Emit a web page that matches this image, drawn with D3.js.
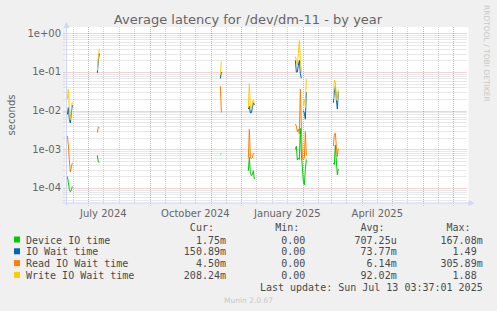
<!DOCTYPE html>
<html><head><meta charset="utf-8">
<script src="https://cdn.jsdelivr.net/npm/d3@7"></script>
<style>body{margin:0;background:#f0f0f0}svg{display:block}</style>
</head><body><svg id="c" width="497" height="311"></svg>
<script>
const title = "Average latency for /dev/dm-11 - by year";
const yLabel = "seconds";
const yTickValues = [1, 0.1, 0.01, 0.001, 0.0001];
const yTickLabels = ["1e+00", "1e-01", "1e-02", "1e-03", "1e-04"];
const xLabelDates = ["2024-07-16", "2024-10-16", "2025-01-16", "2025-04-16"];
const majorGridDates = ["2024-07-01", "2024-09-01", "2024-11-01", "2024-12-01", "2025-02-01", "2025-04-01", "2025-05-01", "2025-06-01", "2025-07-01"];
const minorGridDates = ["2024-08-01", "2024-10-01", "2025-01-01", "2025-03-01",
  "2024-06-16", "2024-07-16", "2024-08-16", "2024-09-16", "2024-10-16", "2024-11-16", "2024-12-16",
  "2025-01-16", "2025-02-16", "2025-03-16", "2025-04-16", "2025-05-16", "2025-06-16"];
const timeStart = "2024-06-08T03:37:01";
const timeEnd = "2025-07-13T03:37:01";

const dates = [
  "2024-06-10", "2024-06-11", "2024-06-12", "2024-06-13", "2024-06-14", "2024-06-15",
  "2024-07-10", "2024-07-11", "2024-07-12",
  "2024-11-10", "2024-11-11",
  "2024-12-08", "2024-12-09", "2024-12-10", "2024-12-11", "2024-12-12", "2024-12-13", "2024-12-14",
  "2025-01-24", "2025-01-25", "2025-01-26", "2025-01-27", "2025-01-28", "2025-01-29", "2025-01-30", "2025-01-31", "2025-02-01", "2025-02-02", "2025-02-03", "2025-02-04",
  "2025-03-03", "2025-03-04", "2025-03-05", "2025-03-06", "2025-03-07", "2025-03-08"
];
const deviceIO = [
  0.0002, 0.00014, 0.00009, 0.00008, 0.00009, 0.00011,
  0.0007, 0.00047, 0.00046,
  0.00075, 0.00078,
  0.00028, 0.00062, 0.00025, 0.00021, 0.00022, 0.00028, 0.00017,
  0.001, 0.0012, 0.00053, 0.0006, 0.00055, 0.0035, 0.0008, 0.00035, 0.00015, 0.00012, 0.0003, 0.00055,
  0.00044, 0.0004, 0.0013, 0.0005, 0.00022, 0.00031
];
const ioWait = [
  0.008, 0.012, 0.006, 0.0048, 0.009, 0.014,
  0.095, 0.2, 0.3,
  0.068, 0.1,
  0.011, 0.013, 0.0087, 0.0088, 0.012, 0.016, 0.014,
  0.2, 0.1, 0.1, 0.15, 0.2, 0.09, 0.069, null, 0.01, 0.0086, 0.006, 0.03,
  0.016, 0.03, 0.042, 0.02, 0.011, 0.031
];
const readIOWait = [
  0.0022, 0.0013, 0.0005, 0.00026, 0.00035, 0.00045,
  0.0027, 0.0038, 0.0035,
  0.043, 0.009,
  0.0006, 0.0033, 0.0006, 0.00058, 0.0006, 0.00078, 0.00078,
  0.0045, 0.004, 0.0028, 0.0033, 0.0025, 0.036, 0.004, 0.0006, 0.00053, 0.0006, 0.0029, 0.0007,
  0.0012, 0.0025, 0.0026, 0.0012, 0.00065, 0.00105
];
const writeIOWait = [
  0.02, 0.036, 0.010, 0.0058, 0.012, 0.017,
  0.11, 0.25, 0.40,
  0.085, 0.185,
  0.012, 0.05, 0.012, 0.011, 0.016, 0.019, 0.015,
  0.25, 0.2, 0.15, 0.3, 0.65, 0.2, 0.1, null, 0.014, 0.02, 0.012, 0.065,
  0.02, 0.062, 0.055, 0.02, 0.018, 0.035
];

const seriesNames = ["Device IO time", "IO Wait time", "Read IO Wait time", "Write IO Wait time"];
const seriesColors = ["#00cc00", "#0066b3", "#ff8000", "#ffcc00"];
const curValues = ["1.75m", "150.89m", "4.50m", "208.24m"];
const minValues = ["0.00", "0.00", "0.00", "0.00"];
const avgValues = ["707.25u", "73.77m", "6.14m", "92.02m"];
const maxValues = ["167.08m", "1.49", "305.89m", "1.88"];
const lastUpdate = "Last update: Sun Jul 13 03:37:01 2025";
const footer = "Munin 2.0.67";
const watermark = "RRDTOOL / TOBI OETIKER";

const svg = d3.select("#c");
const pt = d3.utcParse("%Y-%m-%d");
const ptt = d3.utcParse("%Y-%m-%dT%H:%M:%S");
const L = 65.5, R = 465.5, T = 27, B = 202.5;

const x = d3.scaleUtc().domain([ptt(timeStart), ptt(timeEnd)]).range([L, R]);
const y = d3.scaleLog().domain([Math.pow(10, -4.375), Math.pow(10, 0.163)]).range([B, T]);

// canvas
svg.append("rect").attr("x", L).attr("y", T).attr("width", R - L + 3).attr("height", B - T).attr("fill", "#fff");

const gridMinor = "rgba(150,150,150,0.45)";
const gridMajor = "rgba(222,79,79,0.5)";
const g = svg.append("g");
// horizontal grid
const [d0, d1] = y.domain();
for (let e = -5; e <= 0; e++) {
  for (let k = 1; k <= 9; k++) {
    const v = k * Math.pow(10, e);
    if (v < d0 || v > d1) continue;
    g.append("line").attr("x1", L - 2).attr("x2", R + 2)
      .attr("y1", Math.round(y(v)) + 0.5).attr("y2", Math.round(y(v)) + 0.5)
      .attr("stroke", k === 1 ? gridMajor : gridMinor).attr("stroke-width", 1)
      .attr("stroke-dasharray", "1,1");
  }
}
// vertical grid
minorGridDates.forEach(s => {
  const xv = Math.round(x(pt(s))) + 0.5;
  g.append("line").attr("x1", xv).attr("x2", xv).attr("y1", T).attr("y2", B + 2)
    .attr("stroke", gridMinor).attr("stroke-dasharray", "1,1");
});
majorGridDates.forEach(s => {
  const xv = Math.round(x(pt(s))) + 0.5;
  g.append("line").attr("x1", xv).attr("x2", xv).attr("y1", T).attr("y2", B + 3)
    .attr("stroke", gridMajor).attr("stroke-dasharray", "1,1");
});

// series
const parsed = dates.map(pt);
const allSeries = [deviceIO, ioWait, readIOWait, writeIOWait];
allSeries.forEach((vals, si) => {
  const segs = [];
  let cur = [];
  parsed.forEach((d, i) => {
    if (i > 0 && (d - parsed[i - 1]) > 1.5 * 864e5) { segs.push(cur); cur = []; }
    cur.push({ d, v: vals[i] });
  });
  segs.push(cur);
  const line = d3.line().defined(p => p.v != null).x(p => x(p.d)).y(p => y(p.v));
  segs.forEach(seg => {
    svg.append("path").attr("d", line(seg)).attr("fill", "none")
      .attr("stroke", seriesColors[si]).attr("stroke-width", 1);
  });
});

// axes
const axisCol = "#cfd6f8";
svg.append("line").attr("x1", L + 1).attr("x2", L + 1).attr("y1", B + 3).attr("y2", T - 2).attr("stroke", axisCol);
svg.append("line").attr("x1", L - 3).attr("x2", R + 4).attr("y1", B + 0.5).attr("y2", B + 0.5).attr("stroke", axisCol);
svg.append("path").attr("d", `M${L + 1 - 3},${T + 1} L${L + 1 + 3},${T + 1} L${L + 1},${T - 5} Z`).attr("fill", axisCol);
svg.append("path").attr("d", `M${R + 3},${B + 0.5 - 3} L${R + 3},${B + 0.5 + 3} L${R + 9},${B + 0.5} Z`).attr("fill", axisCol);

const fontCol = "#666";
const legCol = "#4a4a4a";
yTickValues.forEach((v, i) => {
  svg.append("text").attr("x", 61).attr("y", y(v) + 3.5).attr("text-anchor", "end")
    .attr("font-family", "DejaVu Sans").attr("font-size", 10).attr("fill", fontCol).text(yTickLabels[i]);
});
xLabelDates.forEach(s => {
  svg.append("text").attr("x", x(pt(s))).attr("y", 216.5).attr("text-anchor", "middle")
    .attr("font-family", "DejaVu Sans").attr("font-size", 10).attr("fill", fontCol)
    .text(d3.utcFormat("%B %Y")(pt(s)));
});
svg.append("text").attr("transform", "translate(15,115) rotate(-90)").attr("text-anchor", "middle")
  .attr("font-family", "DejaVu Sans").attr("font-size", 10).attr("fill", fontCol).text(yLabel);
svg.append("text").attr("x", 248).attr("y", 23.5).attr("text-anchor", "middle")
  .attr("font-family", "DejaVu Sans").attr("font-size", 13).attr("fill", fontCol).text(title);
svg.append("text").attr("transform", "translate(484,5) rotate(90)")
  .attr("font-family", "DejaVu Sans").attr("font-size", 7.5).attr("fill", "#c8c8c8").text(watermark);

// legend
const mono = "DejaVu Sans Mono";
const cw = 6.02;
const colEnds = [226, 311.3, 396.7, 482.7];
const headers = ["Cur:", "Min:", "Avg:", "Max:"];
headers.forEach((h, i) => {
  svg.append("text").attr("x", colEnds[i] - 2 * cw).attr("y", 231).attr("text-anchor", "end")
    .attr("font-family", mono).attr("font-size", 10).attr("fill", legCol).text(h);
});
const cols = [curValues, minValues, avgValues, maxValues];
seriesNames.forEach((n, i) => {
  const yy = 243.5 + i * 11.8;
  svg.append("rect").attr("x", 14).attr("y", yy - 7).attr("width", 6).attr("height", 6).attr("fill", seriesColors[i]);
  svg.append("text").attr("x", 26).attr("y", yy).attr("font-family", mono).attr("font-size", 10)
    .attr("fill", legCol).text(n);
  cols.forEach((c, j) => {
    const s = c[i];
    const hasSuffix = /[a-zA-Z]$/.test(s);
    svg.append("text").attr("x", colEnds[j] - (hasSuffix ? 0 : cw)).attr("y", yy).attr("text-anchor", "end")
      .attr("font-family", mono).attr("font-size", 10).attr("fill", legCol).text(s);
  });
});
svg.append("text").attr("x", 482.7).attr("y", 291).attr("text-anchor", "end")
  .attr("font-family", mono).attr("font-size", 10).attr("fill", legCol).text(lastUpdate);
svg.append("text").attr("x", 248.5).attr("y", 302.5).attr("text-anchor", "middle")
  .attr("font-family", "DejaVu Sans").attr("font-size", 7.5).attr("fill", "#c8c8c8").text(footer);
</script></body></html>
